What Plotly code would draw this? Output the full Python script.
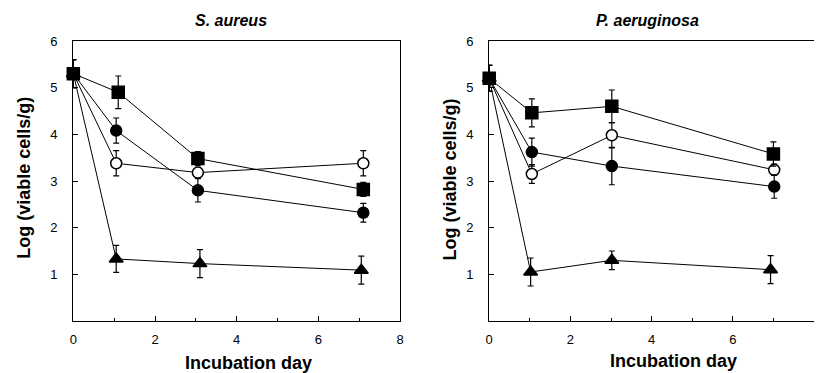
import plotly.graph_objects as go

# ---- data: S. aureus (left panel) ----
sa_days_sq = [0, 1.1, 3.05, 7.1]
sa_sq = [5.3, 4.9, 3.48, 2.82]
sa_sq_err = [0.3, 0.35, 0.15, 0.15]

sa_days_fc = [0, 1.05, 3.05, 7.1]
sa_fc = [5.3, 4.08, 2.8, 2.32]
sa_fc_err = [0.3, 0.27, 0.25, 0.2]

sa_days_oc = [0, 1.05, 3.05, 7.1]
sa_oc = [5.3, 3.38, 3.18, 3.38]
sa_oc_err = [0.3, 0.27, 0.1, 0.27]

sa_days_tr = [0, 1.05, 3.1, 7.05]
sa_tr = [5.3, 1.33, 1.23, 1.09]
sa_tr_err = [0.3, 0.29, 0.3, 0.3]

# ---- data: P. aeruginosa (right panel) ----
pa_days_sq = [0, 1.05, 3.02, 7.0]
pa_sq = [5.2, 4.46, 4.6, 3.58]
pa_sq_err = [0.28, 0.3, 0.35, 0.26]

pa_days_fc = [0, 1.05, 3.02, 7.02]
pa_fc = [5.2, 3.62, 3.32, 2.88]
pa_fc_err = [0.28, 0.3, 0.4, 0.25]

pa_days_oc = [0, 1.05, 3.02, 7.02]
pa_oc = [5.2, 3.15, 3.98, 3.24]
pa_oc_err = [0.28, 0.2, 0.27, 0.12]

pa_days_tr = [0, 1.02, 3.02, 6.93]
pa_tr = [5.2, 1.05, 1.3, 1.1]
pa_tr_err = [0.28, 0.3, 0.2, 0.3]

titles = ["S. aureus", "P. aeruginosa"]
y_title = "Log (viable cells/g)"
x_title = "Incubation day"
x_ticks_left = [0, 2, 4, 6, 8]
x_ticks_right = [0, 2, 4, 6]
y_ticks = [1, 2, 3, 4, 5, 6]

W, H = 818, 373
ML, MR, MT, MB = 0, 0, 41, 52
PH = H - MT - MB

fig = go.Figure()

def add(xs, ys, err, symbol, fill, size, axis):
    xa, ya = axis
    fig.add_trace(go.Scatter(
        x=xs, y=ys, mode="lines+markers",
        line=dict(color="black", width=1),
        marker=dict(symbol=symbol, size=size, color=fill,
                    line=dict(color="black", width=1.5)),
        error_y=dict(type="data", array=err, color="black", thickness=1.2, width=3),
        xaxis=xa, yaxis=ya, showlegend=False, cliponaxis=False))

panels = [
    [(sa_days_tr, sa_tr, sa_tr_err, "triangle-up", "black", 12),
     (sa_days_oc, sa_oc, sa_oc_err, "circle", "white", 11),
     (sa_days_fc, sa_fc, sa_fc_err, "circle", "black", 11),
     (sa_days_sq, sa_sq, sa_sq_err, "square", "black", 12)],
    [(pa_days_tr, pa_tr, pa_tr_err, "triangle-up", "black", 12),
     (pa_days_oc, pa_oc, pa_oc_err, "circle", "white", 11),
     (pa_days_fc, pa_fc, pa_fc_err, "circle", "black", 11),
     (pa_days_sq, pa_sq, pa_sq_err, "square", "black", 12)],
]
axes = [("x", "y"), ("x2", "y2")]
for series, ax in zip(panels, axes):
    for s in series:
        add(*s, ax)

font_family = "Liberation Sans, Arial, sans-serif"
xcommon = dict(range=[0, 8], ticks="inside", ticklen=5,
               tickcolor="black", showline=True, linecolor="black", linewidth=1.3,
               showgrid=False, zeroline=False, ticklabelstandoff=6,
               minor=dict(tickvals=[1, 3, 5, 7], ticks="inside", ticklen=3, tickcolor="black"),
               tickfont=dict(size=13, color="black"))
ycommon = dict(range=[0, 6], tickvals=y_ticks, ticks="inside", ticklen=5,
               tickcolor="black", showline=True, linecolor="black", linewidth=1.3,
               showgrid=False, zeroline=False, ticklabelstandoff=12,
               tickfont=dict(size=13, color="black"))

def px_x(p):
    return p / W

def px_y(p):
    return (H - MB - p) / PH

def label(text, x, y, size, angle=0):
    return dict(text=text, x=px_x(x), y=px_y(y), xref="paper", yref="paper",
                xanchor="center", yanchor="middle", textangle=angle,
                showarrow=False, font=dict(size=size, color="black"))

ann = [
    label(f"<b><i>{titles[0]}</i></b>", 229, 20, 16),
    label(f"<b><i>{titles[1]}</i></b>", 650, 20, 16),
    label(f"<b>{y_title}</b>", 20, 178, 18, -90),
    label(f"<b>{y_title}</b>", 450, 180, 18, -90),
    label(f"<b>{x_title}</b>", 247, 363, 18),
    label(f"<b>{x_title}</b>", 676, 361, 18),
]

fig.update_layout(
    width=W, height=H,
    margin=dict(l=ML, r=MR, t=MT, b=MB),
    paper_bgcolor="white", plot_bgcolor="white",
    font=dict(family=font_family, color="black"),
    xaxis=dict(domain=[70 / W, 400 / W], anchor="y", mirror=True, tickvals=x_ticks_left, **xcommon),
    yaxis=dict(domain=[0, 1], anchor="x", mirror=True, **ycommon),
    xaxis2=dict(domain=[490 / W, 1.0], anchor="y2", mirror=True, tickvals=x_ticks_right, **xcommon),
    yaxis2=dict(domain=[0, 1], anchor="x2", **ycommon),
    annotations=ann,
)

fig.write_html("out.html", config={"displayModeBar": False},
               post_script="document.body.style.margin='0';")
